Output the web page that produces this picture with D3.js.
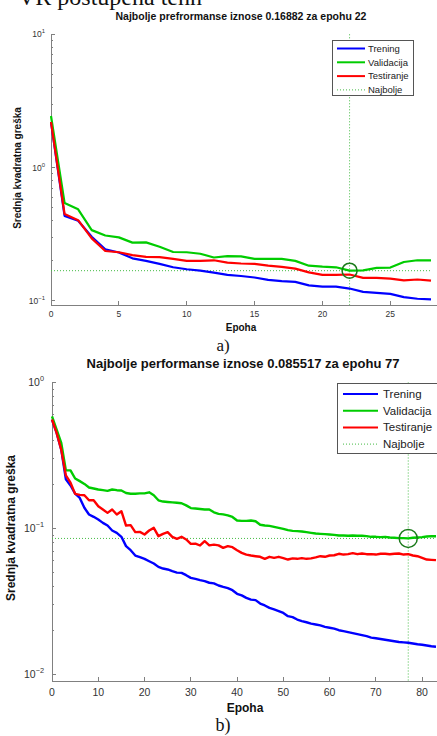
<!DOCTYPE html>
<html><head><meta charset="utf-8">
<script src="https://cdn.jsdelivr.net/npm/d3@7"></script>
<style>
html,body{margin:0;padding:0;background:#fff;}
svg{display:block;}
</style></head>
<body>
<svg id="c" width="437" height="736"></svg>
<script>
// ---------- DATA ----------
const seriesNames = ["Trening", "Validacija", "Testiranje", "Najbolje"];

// Chart a) epochs 0..28
const epochsA = d3.range(0, 29);
const trainA = [2.2, 0.435, 0.40, 0.303, 0.244, 0.231, 0.209, 0.2, 0.19, 0.179, 0.173, 0.169, 0.163, 0.157, 0.154, 0.15, 0.144, 0.141, 0.139, 0.131, 0.128, 0.128, 0.124, 0.117, 0.115, 0.113, 0.107, 0.104, 0.103];
const valA   = [2.44, 0.544, 0.487, 0.34, 0.31, 0.30, 0.274, 0.275, 0.255, 0.233, 0.232, 0.226, 0.212, 0.217, 0.216, 0.207, 0.207, 0.207, 0.2, 0.184, 0.181, 0.179, 0.16882, 0.1695, 0.177, 0.178, 0.196, 0.202, 0.202];
const testA  = [2.2, 0.449, 0.404, 0.295, 0.237, 0.232, 0.221, 0.214, 0.213, 0.207, 0.2, 0.2, 0.202, 0.194, 0.191, 0.19, 0.184, 0.18, 0.175, 0.164, 0.157, 0.157, 0.158, 0.149, 0.149, 0.147, 0.143, 0.145, 0.142];
const bestEpochA = 22, bestValA = 0.16882;
const xTicksA = [0, 5, 10, 15, 20, 25];
const yDecadesA = [-1, 0, 1];
const titleA = "Najbolje prefrormanse iznose 0.16882 za epohu 22";

// Chart b) epochs 0..83
const epochsB = d3.range(0, 84);
const trainB = [0.558, 0.452, 0.347, 0.217, 0.197, 0.1736, 0.162, 0.1386, 0.1247, 0.1202,
  0.1152, 0.1093, 0.1048, 0.0969, 0.0934, 0.0877, 0.0757, 0.071, 0.0653, 0.0636,
  0.062, 0.0597, 0.0576, 0.0546, 0.0532, 0.0524, 0.051, 0.0499, 0.0497, 0.0479,
  0.0459, 0.0452, 0.0443, 0.0436, 0.0425, 0.0421, 0.0407, 0.0398, 0.039, 0.0378,
  0.0357, 0.0348, 0.0335, 0.0326, 0.0323, 0.0306, 0.0297, 0.0286, 0.0279, 0.0272,
  0.0264, 0.0251, 0.0247, 0.0238, 0.0232, 0.0228, 0.0223, 0.022, 0.0217, 0.0212,
  0.0209, 0.0206, 0.0201, 0.0198, 0.0195, 0.0192, 0.0189, 0.0186, 0.0183, 0.0179,
  0.0177, 0.0175, 0.0173, 0.0171, 0.0169, 0.0167, 0.0166, 0.0165, 0.0163, 0.0161,
  0.016, 0.0158, 0.0156, 0.0155];
const valB = [0.587, 0.476, 0.386, 0.25, 0.25, 0.22, 0.211, 0.202, 0.191, 0.188,
  0.185, 0.183, 0.181, 0.185, 0.183, 0.182, 0.175, 0.173, 0.173, 0.174,
  0.174, 0.177, 0.169, 0.156, 0.153, 0.152, 0.151, 0.15, 0.149, 0.144,
  0.138, 0.137, 0.136, 0.135, 0.135, 0.129, 0.126, 0.125, 0.123, 0.12,
  0.1135, 0.1128, 0.1128, 0.1135, 0.1122, 0.106, 0.1048, 0.1043, 0.1027, 0.1011,
  0.0995, 0.0974, 0.0964, 0.0959, 0.0954, 0.0944, 0.0934, 0.0924, 0.0919, 0.0915,
  0.091, 0.0905, 0.0896, 0.0896, 0.0891, 0.0896, 0.0891, 0.0891, 0.0886, 0.0877,
  0.0877, 0.0873, 0.0877, 0.0868, 0.0864, 0.0859, 0.0859, 0.085517, 0.0864, 0.0868,
  0.0873, 0.0882, 0.0886, 0.0886];
const testB = [0.558, 0.452, 0.347, 0.231, 0.206, 0.1727, 0.170, 0.169, 0.156, 0.156,
  0.142, 0.135, 0.128, 0.135, 0.1247, 0.1314, 0.1048, 0.1055, 0.0944, 0.0948,
  0.091, 0.0969, 0.101, 0.0886, 0.0919, 0.0944, 0.0877, 0.085, 0.0877, 0.0841,
  0.0785, 0.0788, 0.0765, 0.0819, 0.0767, 0.0775, 0.0767, 0.0737, 0.0757, 0.0745,
  0.071, 0.0681, 0.0663, 0.0653, 0.0646, 0.064, 0.062, 0.064, 0.063, 0.064,
  0.0627, 0.0613, 0.0624, 0.062, 0.0627, 0.062, 0.0624, 0.0634, 0.0646, 0.064,
  0.0653, 0.0656, 0.0671, 0.0663, 0.0667, 0.0678, 0.0667, 0.0674, 0.0667, 0.0667,
  0.0663, 0.0671, 0.0671, 0.0667, 0.0671, 0.0674, 0.0663, 0.0667, 0.0653, 0.0646,
  0.063, 0.0613, 0.061, 0.0607];
const bestEpochB = 77, bestValB = 0.085517;
const xTicksB = [0, 10, 20, 30, 40, 50, 60, 70, 80];
const yDecadesB = [-2, -1, 0];
const titleB = "Najbolje performanse iznose 0.085517 za epohu 77";

const topText = "VR postupena tehn";
// ---------- END DATA ----------

const colors = {train: "#0000ff", val: "#00cc00", test: "#ff0000", best: "#44bb44", circle: "#1a7a1a"};
const SANS = "'Liberation Sans', Arial, Helvetica, sans-serif";
const SERIF = "'Liberation Serif', 'Times New Roman', serif";

const svg = d3.select("#c");

// text cut off at the very top edge (as in the reference)
svg.append("text").attr("x", 18).attr("y", 5)
  .attr("font-family", SERIF).attr("font-size", 24).attr("fill", "#111")
  .text(topText);

function drawChart(cfg, epochs, tr, va, te, bestE, bestV, xTicks, yDec, title, caption) {
  const g = svg.append("g");
  const x = d3.scaleLinear().domain([0, cfg.xMax]).range([cfg.left, cfg.right]);
  const y = d3.scaleLog().domain([cfg.yMin, cfg.yMax]).range([cfg.bottom, cfg.top]);

  g.append("text").attr("x", cfg.titleX).attr("y", cfg.titleY)
    .attr("text-anchor", "middle").attr("font-family", SANS).attr("font-weight", "bold")
    .attr("font-size", cfg.titleSize).attr("fill", "#111").text(title);

  const axisColor = "#808080";
  g.append("line").attr("x1", cfg.left).attr("x2", cfg.left).attr("y1", cfg.top).attr("y2", cfg.bottom)
    .attr("stroke", axisColor).attr("stroke-width", 1).attr("shape-rendering", "crispEdges");
  g.append("line").attr("x1", cfg.left).attr("x2", cfg.right + 10).attr("y1", cfg.bottom).attr("y2", cfg.bottom)
    .attr("stroke", axisColor).attr("stroke-width", 1).attr("shape-rendering", "crispEdges");

  xTicks.forEach(t => {
    g.append("line").attr("x1", x(t)).attr("x2", x(t)).attr("y1", cfg.bottom).attr("y2", cfg.bottom - cfg.tickLen)
      .attr("stroke", axisColor).attr("shape-rendering", "crispEdges");
    g.append("text").attr("x", x(t)).attr("y", cfg.bottom + cfg.xLabelDy)
      .attr("text-anchor", "middle").attr("font-family", SANS).attr("font-size", cfg.tickSize)
      .attr("fill", "#333").text(t);
  });

  yDec.forEach(d => {
    const v = Math.pow(10, d);
    g.append("line").attr("x1", cfg.left).attr("x2", cfg.left + cfg.tickLen).attr("y1", y(v)).attr("y2", y(v))
      .attr("stroke", axisColor).attr("shape-rendering", "crispEdges");
    const t = g.append("text").attr("x", cfg.left - cfg.yLabelGap).attr("y", y(v) + cfg.tickSize * 0.35)
      .attr("text-anchor", "end").attr("font-family", SANS).attr("font-size", cfg.tickSize).attr("fill", "#333");
    t.append("tspan").text("10");
    t.append("tspan").attr("dy", -cfg.tickSize * 0.45).attr("font-size", cfg.tickSize * 0.7)
      .text(d < 0 ? "\u2212" + (-d) : String(d));
    for (let m = 2; m <= 9; m++) {
      const mv = m * v;
      if (mv > cfg.yMax || mv < cfg.yMin) continue;
      g.append("line").attr("x1", cfg.left).attr("x2", cfg.left + cfg.minorLen).attr("y1", y(mv)).attr("y2", y(mv))
        .attr("stroke", axisColor).attr("shape-rendering", "crispEdges");
    }
  });

  g.append("text").attr("x", cfg.xTitleX).attr("y", cfg.xTitleY).attr("text-anchor", "middle")
    .attr("font-family", SANS).attr("font-weight", "bold").attr("font-size", cfg.axisTitleSize)
    .attr("fill", "#111").text("Epoha");
  g.append("text").attr("transform", `translate(${cfg.yTitleX},${cfg.yTitleY}) rotate(-90)`)
    .attr("text-anchor", "middle").attr("font-family", SANS).attr("font-weight", "bold")
    .attr("font-size", cfg.axisTitleSize).attr("fill", "#111").text("Srednja kvadratna greška");

  g.append("line").attr("x1", x(bestE)).attr("x2", x(bestE)).attr("y1", cfg.top).attr("y2", cfg.bottom)
    .attr("stroke", colors.best).attr("stroke-width", 1).attr("stroke-dasharray", "1,2");
  g.append("line").attr("x1", cfg.left).attr("x2", cfg.right).attr("y1", y(bestV)).attr("y2", y(bestV))
    .attr("stroke", colors.best).attr("stroke-width", 1).attr("stroke-dasharray", "1,2");

  const line = d3.line().x((d, i) => x(epochs[i])).y(d => y(d));
  [[tr, colors.train], [va, colors.val], [te, colors.test]].forEach(([arr, c]) => {
    g.append("path").datum(arr).attr("d", line).attr("fill", "none")
      .attr("stroke", c).attr("stroke-width", cfg.lineW).attr("stroke-linejoin", "round");
  });

  g.append("circle").attr("cx", x(bestE)).attr("cy", y(bestV)).attr("r", cfg.circleR)
    .attr("fill", "none").attr("stroke", colors.circle).attr("stroke-width", 1.5);

  const L = cfg.legend;
  g.append("rect").attr("x", L.x).attr("y", L.y).attr("width", L.w).attr("height", L.h)
    .attr("fill", "#fff").attr("stroke", "#555").attr("stroke-width", 1).attr("shape-rendering", "crispEdges");
  const legColors = [colors.train, colors.val, colors.test, colors.best];
  seriesNames.forEach((n, i) => {
    const yy = L.y + L.first + i * L.step;
    const ln = g.append("line").attr("x1", L.lx1).attr("x2", L.lx2).attr("y1", yy).attr("y2", yy)
      .attr("stroke", legColors[i]);
    if (i < 3) ln.attr("stroke-width", 2);
    else ln.attr("stroke-width", 1).attr("stroke-dasharray", "1,2");
    g.append("text").attr("x", L.tx).attr("y", yy + L.size * 0.35).attr("font-family", SANS)
      .attr("font-size", L.size).attr("fill", "#222").text(n);
  });

  g.append("text").attr("x", cfg.capX).attr("y", cfg.capY).attr("text-anchor", "middle")
    .attr("font-family", SERIF).attr("font-size", cfg.capSize).attr("fill", "#111").text(caption);
}

drawChart({
  left: 51, right: 431, top: 34.3, bottom: 305, xMax: 28,
  yMin: Math.pow(10, -1.03), yMax: 10,
  titleX: 241, titleY: 20, titleSize: 10.5,
  tickLen: 4, minorLen: 2, tickSize: 8.5, xLabelDy: 12, yLabelGap: 6,
  axisTitleSize: 10, xTitleX: 241, xTitleY: 331, yTitleX: 21, yTitleY: 168,
  lineW: 2.2, circleR: 7.5,
  legend: {x: 332, y: 40, w: 81, h: 55, first: 8.5, step: 13.8, lx1: 337, lx2: 365, tx: 368, size: 9.5},
  capX: 223, capY: 351, capSize: 17
}, epochsA, trainA, valA, testA, bestEpochA, bestValA, xTicksA, yDecadesA, titleA, "a)");

drawChart({
  left: 52, right: 436, top: 382.5, bottom: 681, xMax: 83,
  yMin: Math.pow(10, -2.0445), yMax: 1,
  titleX: 243, titleY: 368, titleSize: 13,
  tickLen: 4, minorLen: 2, tickSize: 10.5, xLabelDy: 14.5, yLabelGap: 8,
  axisTitleSize: 12, xTitleX: 245, xTitleY: 712, yTitleX: 15, yTitleY: 528,
  lineW: 2.4, circleR: 9,
  legend: {x: 337, y: 383, w: 100, h: 70, first: 11, step: 16.7, lx1: 343, lx2: 378, tx: 383, size: 11.5},
  capX: 223, capY: 731, capSize: 18
}, epochsB, trainB, valB, testB, bestEpochB, bestValB, xTicksB, yDecadesB, titleB, "b)");
</script>
</body></html>
